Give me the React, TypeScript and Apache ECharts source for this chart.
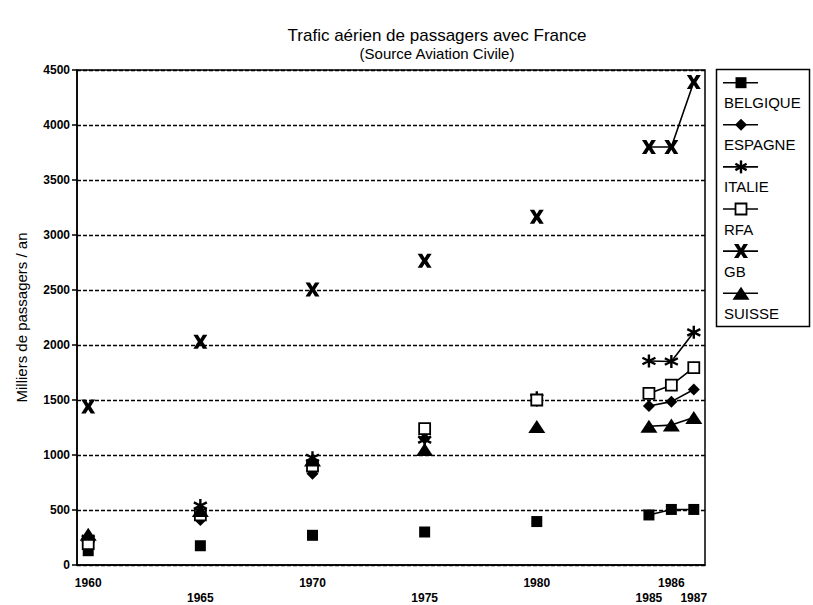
import React, { useEffect, useRef } from "react";
import * as echarts from "echarts";

const allYears = Array.from({ length: 28 }, (_, i) => String(1960 + i));
const years = [1960, 1965, 1970, 1975, 1980, 1985, 1986, 1987];
const belgique = [130, 175, 270, 300, 395, 455, 505, 505];
const espagne = [160, 410, 830, 1150, 1490, 1445, 1485, 1595];
const italie = [240, 540, 975, 1140, 1520, 1855, 1850, 2115];
const rfa = [195, 455, 900, 1240, 1500, 1560, 1635, 1795];
const gb = [1440, 2030, 2505, 2765, 3165, 3800, 3800, 4390];
const suisse = [280, 495, 955, 1050, 1260, 1262, 1272, 1340];
const row1Labels = ["1960", "1970", "1980", "1986"];
const row2Labels = ["1965", "1975", "1985", "1987"];
const yTicks = { min: 0, max: 4500, interval: 500 };

const FONT = "'Liberation Sans', Arial, sans-serif";

const GB_PATH =
  "M0,0 L3.2,0 L5,3 L6.8,0 L10,0 L6.8,5 L10,10 L6.8,10 L5,7 L3.2,10 L0,10 L3.2,5 Z";
const AST_PATH = "M5,0 L5,10 M0.7,2.5 L9.3,7.5 M9.3,2.5 L0.7,7.5";

function build(vals: number[]) {
  const arr: (number | null)[] = allYears.map(() => null);
  years.forEach((y, i) => {
    arr[y - 1960] = vals[i];
  });
  return arr;
}

const seriesDefs = [
  { name: "BELGIQUE", data: belgique, symbol: "rect", size: 11, fill: "#000", bw: 0 },
  { name: "ESPAGNE", data: espagne, symbol: "diamond", size: [12, 12], fill: "#000", bw: 0 },
  { name: "ITALIE", data: italie, symbol: "path://" + AST_PATH, size: 13, fill: "none", bw: 2.4 },
  { name: "RFA", data: rfa, symbol: "rect", size: 11, fill: "#fff", bw: 1.8 },
  { name: "GB", data: gb, symbol: "path://" + GB_PATH, size: 14, fill: "#000", bw: 0 },
  { name: "SUISSE", data: suisse, symbol: "triangle", size: [17, 13], fill: "#000", bw: 0 },
];

export default function App() {
  const ref = useRef<HTMLDivElement>(null);
  useEffect(() => {
    document.body.style.margin = "0";
    if (!ref.current) return;
    const chart = echarts.init(ref.current, null, { renderer: "svg" });

    const legendX = 723;
    const legendTop = 82.7;
    const legendStep = 42.1;
    const legendGraphics: any[] = [
      {
        type: "rect",
        shape: { x: 716.5, y: 69.5, width: 93, height: 257 },
        style: { fill: "#fff", stroke: "#000", lineWidth: 1.5 },
        z: 10,
      },
    ];
    seriesDefs.forEach((s, i) => {
      const cy = legendTop + i * legendStep;
      const cx = 741;
      legendGraphics.push({
        type: "line",
        shape: { x1: legendX, y1: cy, x2: legendX + 35, y2: cy },
        style: { stroke: "#000", lineWidth: 1.6 },
        z: 11,
      });
      const mks: any[] = [];
      if (s.name === "BELGIQUE") {
        mks.push({ type: "rect", shape: { x: cx - 5.5, y: cy - 5.5, width: 11, height: 11 }, style: { fill: "#000" } });
      } else if (s.name === "ESPAGNE") {
        mks.push({ type: "polygon", shape: { points: [[cx, cy - 6], [cx + 6, cy], [cx, cy + 6], [cx - 6, cy]] }, style: { fill: "#000" } });
      } else if (s.name === "ITALIE") {
        mks.push({ type: "line", shape: { x1: cx, y1: cy - 6.5, x2: cx, y2: cy + 6.5 }, style: { stroke: "#000", lineWidth: 2.4 } });
        mks.push({ type: "line", shape: { x1: cx - 5.6, y1: cy - 3.2, x2: cx + 5.6, y2: cy + 3.2 }, style: { stroke: "#000", lineWidth: 2.4 } });
        mks.push({ type: "line", shape: { x1: cx + 5.6, y1: cy - 3.2, x2: cx - 5.6, y2: cy + 3.2 }, style: { stroke: "#000", lineWidth: 2.4 } });
      } else if (s.name === "RFA") {
        mks.push({ type: "rect", shape: { x: cx - 5.5, y: cy - 5.5, width: 11, height: 11 }, style: { fill: "#fff", stroke: "#000", lineWidth: 1.8 } });
      } else if (s.name === "GB") {
        const p = [[0, 0], [3.2, 0], [5, 3], [6.8, 0], [10, 0], [6.8, 5], [10, 10], [6.8, 10], [5, 7], [3.2, 10], [0, 10], [3.2, 5]].map(
          ([x, y]) => [cx - 7 + x * 1.4, cy - 7 + y * 1.4]
        );
        mks.push({ type: "polygon", shape: { points: p }, style: { fill: "#000" } });
      } else {
        mks.push({ type: "polygon", shape: { points: [[cx, cy - 6.5], [cx + 8.5, cy + 6.5], [cx - 8.5, cy + 6.5]] }, style: { fill: "#000" } });
      }
      mks.forEach((m) => {
        m.z = 12;
        legendGraphics.push(m);
      });
      legendGraphics.push({
        type: "text",
        x: 724,
        y: cy + 20,
        style: {
          text: s.name,
          fill: "#000",
          font: `15px ${FONT}`,
          textVerticalAlign: "middle",
          textAlign: "left",
        },
        z: 12,
      });
    });

    const option: any = {
      animation: false,
      backgroundColor: "#fff",
      grid: {
        left: 77,
        right: 108,
        top: 70,
        bottom: 39,
        show: true,
        borderColor: "#000",
        borderWidth: 1.5,
        backgroundColor: "transparent",
      },
      graphic: [
        {
          type: "text",
          x: 437,
          y: 35.5,
          style: {
            text: "Trafic aérien de passagers avec France",
            fill: "#000",
            font: `17px ${FONT}`,
            textAlign: "center",
            textVerticalAlign: "middle",
          },
        },
        {
          type: "text",
          x: 437,
          y: 53.5,
          style: {
            text: "(Source Aviation Civile)",
            fill: "#000",
            font: `15px ${FONT}`,
            textAlign: "center",
            textVerticalAlign: "middle",
          },
        },
        ...legendGraphics,
      ],
      xAxis: {
        type: "category",
        data: allYears,
        boundaryGap: true,
        axisLine: { lineStyle: { color: "#000", width: 1.5 } },
        axisTick: { alignWithLabel: true, length: 6, interval: 0, lineStyle: { color: "#000", width: 1.5 } },
        axisLabel: {
          interval: 0,
          margin: 10,
          color: "#000",
          fontFamily: FONT,
          fontWeight: "bold",
          fontSize: 12,
          lineHeight: 15,
          formatter: (v: string) => {
            if (row1Labels.includes(v)) return v;
            if (row2Labels.includes(v)) return "\n" + v;
            return "";
          },
        },
        splitLine: { show: false },
      },
      yAxis: {
        type: "value",
        min: yTicks.min,
        max: yTicks.max,
        interval: yTicks.interval,
        name: "Milliers de passagers / an",
        nameLocation: "middle",
        nameGap: 48,
        nameTextStyle: { color: "#000", fontFamily: FONT, fontSize: 15 },
        axisLine: { show: true, lineStyle: { color: "#000", width: 1.5 } },
        axisTick: { show: true, length: 5, lineStyle: { color: "#000", width: 1.5 } },
        axisLabel: {
          color: "#000",
          fontFamily: FONT,
          fontWeight: "bold",
          fontSize: 12,
          margin: 7,
          formatter: (v: number) => String(v),
        },
        splitLine: { show: true, lineStyle: { color: "#000", width: 1.3, type: [4, 2] } },
      },
      series: seriesDefs.map((s) => ({
        name: s.name,
        type: "line",
        data: build(s.data),
        connectNulls: false,
        showSymbol: true,
        showAllSymbol: true,
        symbol: s.symbol,
        symbolSize: s.size,
        lineStyle: { color: "#000", width: 1.6 },
        itemStyle: {
          color: s.fill,
          borderColor: "#000",
          borderWidth: s.bw,
        },
        emphasis: { disabled: true },
      })),
    };
    chart.setOption(option);
    return () => chart.dispose();
  }, []);
  return <div ref={ref} style={{ width: 813, height: 605 }} />;
}
